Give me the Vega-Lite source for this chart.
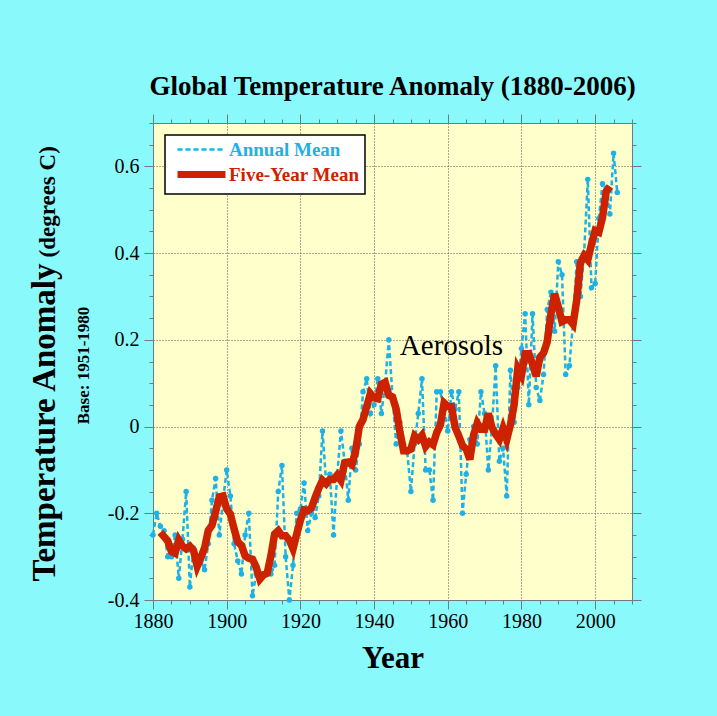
{
  "$schema": "https://vega.github.io/schema/vega-lite/v6.json",
  "width": 479,
  "height": 477,
  "autosize": {"type": "none"},
  "padding": {"left": 153, "top": 123, "right": 85, "bottom": 116},
  "background": "#8AF9FC",
  "title": {"text": "Global Temperature Anomaly (1880-2006)", "font": "Liberation Serif", "fontSize": 27, "fontWeight": "bold", "color": "black", "anchor": "middle", "offset": 12},
  "config": {
    "view": {"fill": "#FFFFCC", "stroke": null},
    "axis": {"domainColor": "#6f7c7c", "tickColor": "#6f7c7c", "domainWidth": 1, "tickWidth": 1, "labelOverlap": false, "labelFlush": false, "labelBound": false, "labelFont": "Liberation Serif", "labelFontSize": 20, "labelColor": "black", "titleFont": "Liberation Serif", "titleColor": "black", "titleFontWeight": "bold"}
  },
  "datasets": {
    "annual": [
      {"year":1880,"anomaly":-0.25},{"year":1881,"anomaly":-0.20},{"year":1882,"anomaly":-0.23},{"year":1883,"anomaly":-0.24},{"year":1884,"anomaly":-0.30},
      {"year":1885,"anomaly":-0.30},{"year":1886,"anomaly":-0.25},{"year":1887,"anomaly":-0.35},{"year":1888,"anomaly":-0.26},{"year":1889,"anomaly":-0.15},
      {"year":1890,"anomaly":-0.37},{"year":1891,"anomaly":-0.28},{"year":1892,"anomaly":-0.32},{"year":1893,"anomaly":-0.31},{"year":1894,"anomaly":-0.33},
      {"year":1895,"anomaly":-0.27},{"year":1896,"anomaly":-0.17},{"year":1897,"anomaly":-0.12},{"year":1898,"anomaly":-0.25},{"year":1899,"anomaly":-0.17},
      {"year":1900,"anomaly":-0.10},{"year":1901,"anomaly":-0.16},{"year":1902,"anomaly":-0.27},{"year":1903,"anomaly":-0.31},{"year":1904,"anomaly":-0.34},
      {"year":1905,"anomaly":-0.25},{"year":1906,"anomaly":-0.20},{"year":1907,"anomaly":-0.39},{"year":1908,"anomaly":-0.34},{"year":1909,"anomaly":-0.35},
      {"year":1910,"anomaly":-0.34},{"year":1911,"anomaly":-0.34},{"year":1912,"anomaly":-0.34},{"year":1913,"anomaly":-0.32},{"year":1914,"anomaly":-0.15},
      {"year":1915,"anomaly":-0.09},{"year":1916,"anomaly":-0.30},{"year":1917,"anomaly":-0.40},{"year":1918,"anomaly":-0.32},{"year":1919,"anomaly":-0.20},
      {"year":1920,"anomaly":-0.19},{"year":1921,"anomaly":-0.13},{"year":1922,"anomaly":-0.24},{"year":1923,"anomaly":-0.20},{"year":1924,"anomaly":-0.21},
      {"year":1925,"anomaly":-0.16},{"year":1926,"anomaly":-0.01},{"year":1927,"anomaly":-0.13},{"year":1928,"anomaly":-0.11},{"year":1929,"anomaly":-0.25},
      {"year":1930,"anomaly":-0.11},{"year":1931,"anomaly":-0.01},{"year":1932,"anomaly":-0.08},{"year":1933,"anomaly":-0.17},{"year":1934,"anomaly":-0.05},
      {"year":1935,"anomaly":-0.10},{"year":1936,"anomaly":-0.04},{"year":1937,"anomaly":0.08},{"year":1938,"anomaly":0.11},{"year":1939,"anomaly":0.03},
      {"year":1940,"anomaly":0.05},{"year":1941,"anomaly":0.11},{"year":1942,"anomaly":0.03},{"year":1943,"anomaly":0.10},{"year":1944,"anomaly":0.20},
      {"year":1945,"anomaly":0.07},{"year":1946,"anomaly":-0.04},{"year":1947,"anomaly":0.01},{"year":1948,"anomaly":-0.04},{"year":1949,"anomaly":-0.06},
      {"year":1950,"anomaly":-0.15},{"year":1951,"anomaly":-0.04},{"year":1952,"anomaly":0.03},{"year":1953,"anomaly":0.11},{"year":1954,"anomaly":-0.10},
      {"year":1955,"anomaly":-0.10},{"year":1956,"anomaly":-0.17},{"year":1957,"anomaly":0.08},{"year":1958,"anomaly":0.08},{"year":1959,"anomaly":0.04},
      {"year":1960,"anomaly":-0.01},{"year":1961,"anomaly":0.08},{"year":1962,"anomaly":0.04},{"year":1963,"anomaly":0.08},{"year":1964,"anomaly":-0.20},
      {"year":1965,"anomaly":-0.11},{"year":1966,"anomaly":-0.03},{"year":1967,"anomaly":0.00},{"year":1968,"anomaly":-0.04},{"year":1969,"anomaly":0.08},
      {"year":1970,"anomaly":0.03},{"year":1971,"anomaly":-0.10},{"year":1972,"anomaly":0.00},{"year":1973,"anomaly":0.14},{"year":1974,"anomaly":-0.08},
      {"year":1975,"anomaly":-0.05},{"year":1976,"anomaly":-0.16},{"year":1977,"anomaly":0.13},{"year":1978,"anomaly":0.01},{"year":1979,"anomaly":0.09},
      {"year":1980,"anomaly":0.18},{"year":1981,"anomaly":0.26},{"year":1982,"anomaly":0.05},{"year":1983,"anomaly":0.26},{"year":1984,"anomaly":0.09},
      {"year":1985,"anomaly":0.06},{"year":1986,"anomaly":0.12},{"year":1987,"anomaly":0.27},{"year":1988,"anomaly":0.31},{"year":1989,"anomaly":0.22},
      {"year":1990,"anomaly":0.38},{"year":1991,"anomaly":0.35},{"year":1992,"anomaly":0.12},{"year":1993,"anomaly":0.14},{"year":1994,"anomaly":0.24},
      {"year":1995,"anomaly":0.38},{"year":1996,"anomaly":0.30},{"year":1997,"anomaly":0.40},{"year":1998,"anomaly":0.57},{"year":1999,"anomaly":0.32},
      {"year":2000,"anomaly":0.33},{"year":2001,"anomaly":0.48},{"year":2002,"anomaly":0.56},{"year":2003,"anomaly":0.55},{"year":2004,"anomaly":0.49},
      {"year":2005,"anomaly":0.63},{"year":2006,"anomaly":0.54}
    ],
    "five": [
      {"year":1882,"anomaly":-0.244},{"year":1883,"anomaly":-0.254},{"year":1884,"anomaly":-0.264},{"year":1885,"anomaly":-0.288},{"year":1886,"anomaly":-0.292},
      {"year":1887,"anomaly":-0.262},{"year":1888,"anomaly":-0.276},{"year":1889,"anomaly":-0.282},{"year":1890,"anomaly":-0.276},{"year":1891,"anomaly":-0.286},
      {"year":1892,"anomaly":-0.322},{"year":1893,"anomaly":-0.302},{"year":1894,"anomaly":-0.280},{"year":1895,"anomaly":-0.240},{"year":1896,"anomaly":-0.228},
      {"year":1897,"anomaly":-0.196},{"year":1898,"anomaly":-0.162},{"year":1899,"anomaly":-0.160},{"year":1900,"anomaly":-0.190},{"year":1901,"anomaly":-0.202},
      {"year":1902,"anomaly":-0.236},{"year":1903,"anomaly":-0.266},{"year":1904,"anomaly":-0.274},{"year":1905,"anomaly":-0.298},{"year":1906,"anomaly":-0.304},
      {"year":1907,"anomaly":-0.306},{"year":1908,"anomaly":-0.324},{"year":1909,"anomaly":-0.352},{"year":1910,"anomaly":-0.342},{"year":1911,"anomaly":-0.338},
      {"year":1912,"anomaly":-0.298},{"year":1913,"anomaly":-0.248},{"year":1914,"anomaly":-0.240},{"year":1915,"anomaly":-0.252},{"year":1916,"anomaly":-0.252},
      {"year":1917,"anomaly":-0.262},{"year":1918,"anomaly":-0.282},{"year":1919,"anomaly":-0.248},{"year":1920,"anomaly":-0.216},{"year":1921,"anomaly":-0.192},
      {"year":1922,"anomaly":-0.194},{"year":1923,"anomaly":-0.188},{"year":1924,"anomaly":-0.164},{"year":1925,"anomaly":-0.142},{"year":1926,"anomaly":-0.124},
      {"year":1927,"anomaly":-0.132},{"year":1928,"anomaly":-0.122},{"year":1929,"anomaly":-0.122},{"year":1930,"anomaly":-0.112},{"year":1931,"anomaly":-0.124},
      {"year":1932,"anomaly":-0.084},{"year":1933,"anomaly":-0.082},{"year":1934,"anomaly":-0.088},{"year":1935,"anomaly":-0.056},{"year":1936,"anomaly":0.000},
      {"year":1937,"anomaly":0.016},{"year":1938,"anomaly":0.046},{"year":1939,"anomaly":0.076},{"year":1940,"anomaly":0.066},{"year":1941,"anomaly":0.064},
      {"year":1942,"anomaly":0.098},{"year":1943,"anomaly":0.102},{"year":1944,"anomaly":0.072},{"year":1945,"anomaly":0.068},{"year":1946,"anomaly":0.040},
      {"year":1947,"anomaly":-0.012},{"year":1948,"anomaly":-0.056},{"year":1949,"anomaly":-0.056},{"year":1950,"anomaly":-0.052},{"year":1951,"anomaly":-0.022},
      {"year":1952,"anomaly":-0.030},{"year":1953,"anomaly":-0.020},{"year":1954,"anomaly":-0.046},{"year":1955,"anomaly":-0.036},{"year":1956,"anomaly":-0.042},
      {"year":1957,"anomaly":-0.014},{"year":1958,"anomaly":0.004},{"year":1959,"anomaly":0.054},{"year":1960,"anomaly":0.046},{"year":1961,"anomaly":0.046},
      {"year":1962,"anomaly":-0.002},{"year":1963,"anomaly":-0.022},{"year":1964,"anomaly":-0.044},{"year":1965,"anomaly":-0.052},{"year":1966,"anomaly":-0.076},
      {"year":1967,"anomaly":-0.020},{"year":1968,"anomaly":0.008},{"year":1969,"anomaly":-0.006},{"year":1970,"anomaly":-0.006},{"year":1971,"anomaly":0.030},
      {"year":1972,"anomaly":-0.002},{"year":1973,"anomaly":-0.018},{"year":1974,"anomaly":-0.030},{"year":1975,"anomaly":-0.004},{"year":1976,"anomaly":-0.030},
      {"year":1977,"anomaly":0.004},{"year":1978,"anomaly":0.050},{"year":1979,"anomaly":0.134},{"year":1980,"anomaly":0.118},{"year":1981,"anomaly":0.168},
      {"year":1982,"anomaly":0.168},{"year":1983,"anomaly":0.144},{"year":1984,"anomaly":0.116},{"year":1985,"anomaly":0.160},{"year":1986,"anomaly":0.170},
      {"year":1987,"anomaly":0.196},{"year":1988,"anomaly":0.260},{"year":1989,"anomaly":0.306},{"year":1990,"anomaly":0.276},{"year":1991,"anomaly":0.242},
      {"year":1992,"anomaly":0.246},{"year":1993,"anomaly":0.246},{"year":1994,"anomaly":0.236},{"year":1995,"anomaly":0.292},{"year":1996,"anomaly":0.378},
      {"year":1997,"anomaly":0.394},{"year":1998,"anomaly":0.384},{"year":1999,"anomaly":0.420},{"year":2000,"anomaly":0.452},{"year":2001,"anomaly":0.448},
      {"year":2002,"anomaly":0.482},{"year":2003,"anomaly":0.542},{"year":2004,"anomaly":0.554}
    ],
    "notes": [{"year": 1947, "anomaly": 0.165, "label": "Aerosols"}]
  },
  "layer": [
    {
      "data": {"name": "annual"},
      "mark": {"type": "line", "strokeDash": [5, 3], "strokeWidth": 2.5},
      "encoding": {
        "x": {"field": "year", "type": "quantitative", "scale": {"domain": [1880, 2010], "nice": false, "zero": false},
          "axis": {"orient": "bottom",
            "values": [1880,1885,1890,1895,1900,1905,1910,1915,1920,1925,1930,1935,1940,1945,1950,1955,1960,1965,1970,1975,1980,1985,1990,1995,2000,2005,2010],
            "labelExpr": "datum.value % 20 == 0 ? toString(datum.value) : ''",
            "tickSize": {"condition": {"test": "datum.value % 20 == 0", "value": 9}, "value": 4},
            "grid": true, "gridColor": "#555555", "gridDash": [1, 2], "gridWidth": 1,
            "gridOpacity": {"condition": {"test": "datum.value % 20 == 0", "value": 1}, "value": 0},
            "labelPadding": 2,
            "title": "Year", "titleFontSize": 31, "titlePadding": 12}},
        "y": {"field": "anomaly", "type": "quantitative", "scale": {"domain": [-0.4, 0.7], "nice": false, "zero": false},
          "axis": {"orient": "left",
            "values": [-0.4,-0.35,-0.3,-0.25,-0.2,-0.15,-0.1,-0.05,0,0.05,0.1,0.15,0.2,0.25,0.3,0.35,0.4,0.45,0.5,0.55,0.6,0.65,0.7],
            "labelExpr": "abs(round(datum.value*20)) % 4 == 0 ? (datum.value == 0 ? '0' : toString(round(datum.value*10)/10)) : ''",
            "tickSize": {"condition": {"test": "abs(round(datum.value*20)) % 4 == 0", "value": 9}, "value": 4},
            "grid": true, "gridColor": "#555555", "gridDash": [1, 2], "gridWidth": 1,
            "gridOpacity": {"condition": {"test": "abs(round(datum.value*20)) % 4 == 0", "value": 1}, "value": 0},
            "labelPadding": 5,
            "title": "Temperature Anomaly", "titleFontSize": 33, "titleAngle": 270, "titleAlign": "right", "titleBaseline": "alphabetic", "titleX": -99, "titleY": 140}},
        "color": {"datum": "Annual Mean",
          "scale": {"domain": ["Annual Mean", "Five-Year Mean"], "range": ["#1DB1E6", "#CC2200"]},
          "legend": {"title": null, "orient": "top-left", "offset": 12, "fillColor": "white", "strokeColor": "black", "padding": 5,
            "symbolType": "stroke", "symbolSize": 2304, "symbolStrokeWidth": 3, "symbolOffset": 22,
            "labelFont": "Liberation Serif", "labelFontSize": 19, "labelFontWeight": "bold", "labelLimit": 300, "labelOffset": 18, "rowPadding": 0,
            "encode": {
              "symbols": {"update": {"strokeDash": {"signal": "datum.value == 'Annual Mean' ? [5,3] : [1,0]"}, "strokeWidth": {"signal": "datum.value == 'Annual Mean' ? 2.5 : 7"}}},
              "labels": {"update": {"fill": {"signal": "datum.value == 'Annual Mean' ? '#1DB1E6' : '#CC2200'"}}},
              "legend": {"update": {"strokeWidth": {"value": 1.5}}}
            }}}
      }
    },
    {
      "data": {"name": "annual"},
      "mark": {"type": "circle", "size": 30, "opacity": 1, "color": "#1DB1E6"},
      "encoding": {
        "x": {"field": "year", "type": "quantitative", "axis": null},
        "y": {"field": "anomaly", "type": "quantitative",
          "axis": {"orient": "left", "labels": false, "ticks": false, "domain": false, "grid": false,
            "title": "Base: 1951-1980", "titleFontSize": 17, "titleAngle": 270, "titleAlign": "center", "titleBaseline": "alphabetic", "titleX": -65, "titleY": 242}}
      }
    },
    {
      "data": {"name": "five"},
      "mark": {"type": "line", "strokeWidth": 7.5},
      "encoding": {
        "x": {"field": "year", "type": "quantitative",
          "axis": {"orient": "top", "labels": false, "grid": false, "title": null,
            "values": [1880,1885,1890,1895,1900,1905,1910,1915,1920,1925,1930,1935,1940,1945,1950,1955,1960,1965,1970,1975,1980,1985,1990,1995,2000,2005,2010],
            "tickSize": {"condition": {"test": "datum.value % 20 == 0", "value": 9}, "value": 4}}},
        "y": {"field": "anomaly", "type": "quantitative",
          "axis": {"orient": "right", "labels": false, "grid": false, "title": null,
            "values": [-0.4,-0.35,-0.3,-0.25,-0.2,-0.15,-0.1,-0.05,0,0.05,0.1,0.15,0.2,0.25,0.3,0.35,0.4,0.45,0.5,0.55,0.6,0.65,0.7],
            "tickSize": {"condition": {"test": "abs(round(datum.value*20)) % 4 == 0", "value": 9}, "value": 4}}},
        "color": {"datum": "Five-Year Mean"}
      }
    },
    {
      "data": {"name": "notes"},
      "mark": {"type": "text", "font": "Liberation Serif", "fontSize": 29, "align": "left", "baseline": "alphabetic", "color": "black"},
      "encoding": {
        "x": {"field": "year", "type": "quantitative", "axis": null},
        "y": {"field": "anomaly", "type": "quantitative",
          "axis": {"orient": "left", "labels": false, "ticks": false, "domain": false, "grid": false,
            "title": "(degrees C)", "titleFontSize": 23, "titleAngle": 270, "titleAlign": "left", "titleBaseline": "alphabetic", "titleX": -99, "titleY": 134}},
        "text": {"field": "label"}
      }
    }
  ],
  "resolve": {"axis": {"x": "independent", "y": "independent"}}
}
